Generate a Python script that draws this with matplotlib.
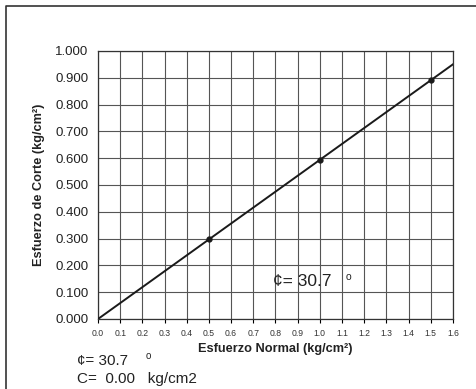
import matplotlib.pyplot as plt
import numpy as np
from matplotlib.lines import Line2D

plt.rcParams['font.family'] = ['Liberation Sans', 'DejaVu Sans']

# ensayo de corte directo
normal = [0.5, 1.0, 1.5]
corte = [0.297, 0.594, 0.891]
phi = 30.7
cohesion = 0.00
x_ticks = [i / 10 for i in range(17)]
y_ticks = [i / 10 for i in range(11)]

# recta de ajuste por el origen
x_fit = np.array([0.0, 1.6])
y_fit = cohesion + np.tan(np.radians(phi)) * x_fit

fig = plt.figure(figsize=(4.77, 3.89), dpi=100)

ax = fig.add_axes([0.2055, 0.180, 0.744, 0.689])

ax.plot(x_fit, y_fit, color='#1a1a1a', lw=1.4, zorder=3)
ax.plot(normal, corte, 'o', color='#1a1a1a', ms=3.5, zorder=4)

ax.set_xlim(0, 1.6)
ax.set_ylim(0, 1.0)
ax.set_xticks(x_ticks)
ax.set_yticks(y_ticks)
ax.set_xticklabels(['%.1f' % v for v in x_ticks], fontsize=6.2, color='#333333')
ax.set_yticklabels(['%.3f' % v for v in y_ticks], fontsize=9.5, color='#222222')
ax.tick_params(axis='x', length=3, width=0.8, pad=4)
ax.tick_params(axis='y', length=0, pad=7)
ax.grid(True, color='#555555', lw=0.8)
for s in ax.spines.values():
    s.set_color('#333333')
    s.set_linewidth(0.9)

ax.set_xlabel('Esfuerzo Normal (kg/cm²)', fontsize=9.2, fontweight='bold',
              color='#222222', labelpad=4)
ax.set_ylabel('Esfuerzo de Corte (kg/cm²)', fontsize=9.2, fontweight='bold',
              color='#222222', labelpad=7)

ax.text(0.789, 0.138, '¢= %.1f' % phi, fontsize=12.5, color='#222222',
        va='center')
ax.text(1.115, 0.158, 'o', fontsize=7.5, color='#222222', va='center')

fig.text(77 / 477, 1 - 361 / 389, '¢= %.1f' % phi, fontsize=11,
         color='#222222', va='center')
fig.text(146 / 477, 1 - 356 / 389, 'o', fontsize=7, color='#222222',
         va='center')
fig.text(77 / 477, 1 - 379 / 389, 'C=  %.2f   kg/cm2' % cohesion, fontsize=11,
         color='#222222', va='center')

# marco de la hoja
fig.add_artist(Line2D([6 / 477, 6 / 477, 1.0], [0.0, 1 - 6 / 389, 1 - 6 / 389],
                      transform=fig.transFigure, color='#333333', lw=1.2))

fig.savefig('out.png', dpi=100)
